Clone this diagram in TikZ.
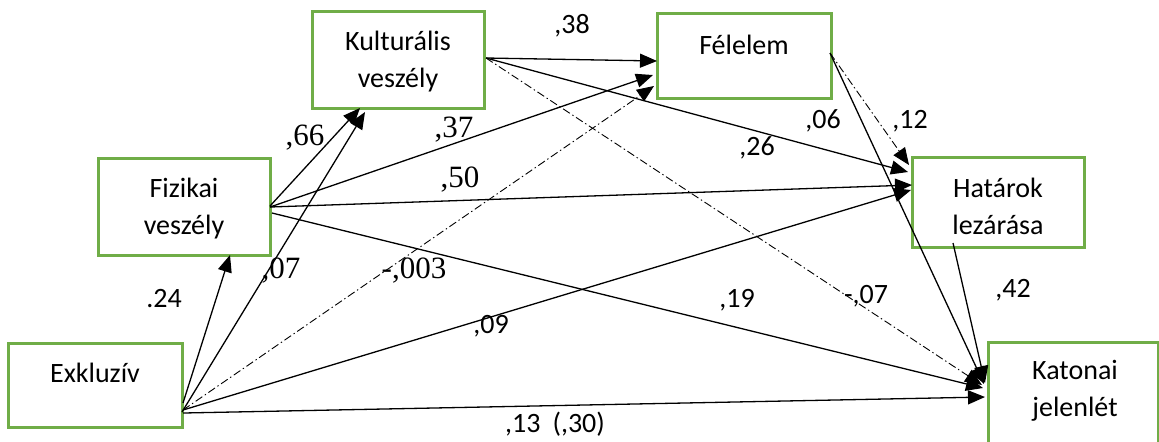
\documentclass[tikz,border=0pt]{standalone}
\usepackage{fontspec}
\setmainfont{Carlito}
\newfontfamily\tnr{Liberation Serif}
\usetikzlibrary{arrows.meta,calc}
\definecolor{boxgreen}{RGB}{112,173,71}
\begin{document}
\begin{tikzpicture}[x=0.5pt,y=-0.5pt,
  box/.style={draw=boxgreen, line width=1.5pt, rectangle, inner sep=0pt, outer sep=0pt},
  txt/.style={font=\fontsize{14}{18.5}\selectfont, align=center, inner sep=0pt},
  lab/.style={font=\fontsize{14}{16}\selectfont, inner sep=0pt, anchor=base},
  tlab/.style={font=\tnr\fontsize{15.5}{17}\selectfont, inner sep=0pt, anchor=base},
  arr/.style={line width=0.65pt, -{Triangle[length=8.5pt,width=7pt]}},
  dd/.style={arr, line width=0.45pt, dash pattern=on 4pt off 1.5pt on 0.7pt off 1.5pt}]
\useasboundingbox (0,0) rectangle (1159,441);
% boxes
\node[box, minimum width=86pt, minimum height=48.5pt] (kul) at (398,59.5) {};
\node[box, minimum width=87pt, minimum height=42.5pt] (fel) at (744,55.5) {};
\node[box, minimum width=86pt, minimum height=48.5pt] (fiz) at (184,206.5) {};
\node[box, minimum width=86pt, minimum height=45pt] (hat) at (998,202) {};
\node[box, minimum width=87pt, minimum height=42pt] (exk) at (95,385) {};
\node[box, minimum width=85pt, minimum height=69pt] (kat) at (1073,411) {};
% box texts
\node[txt] (kult) at (398,62) {Kulturális\\veszély};
\node[txt] (felt) at (744,45) {Félelem};
\node[txt] (fizt) at (184,209) {Fizikai\\veszély};
\node[txt] (hatt) at (998,206) {Határok\\lezárása};
\node[txt] (exkt) at (95,373) {Exkluzív};
\node[txt] (katt) at (1075,391) {Katonai\\jelenlét};
% connectors
\draw[arr] ($(fiz.north east)+(0,48)$) -- ($(kul.south west)+(48,0)$);
\draw[arr] ($(exk.north east)+(0,69)$) -- ($(kul.south west)+(53,4)$);
\draw[arr] ($(fiz.north east)+(0,49)$) -- ($(fel.north west)+(-4,62)$);
\draw[dd]  ($(exk.north east)+(1,67)$) -- ($(fel.north west)+(-3,73)$);
\draw[arr] ($(kul.north east)+(2,47)$) -- ($(fel.north west)+(0,48)$);
\draw[arr] ($(kul.north east)+(2,47)$) -- ($(hat.north west)+(-4,15)$);
\draw[dd]  ($(kul.north east)+(2,47)$) -- ($(kat.north west)+(-6,43)$);
\draw[arr] ($(fiz.north east)+(0,49)$) -- ($(hat.north west)+(0,28)$);
\draw[arr] ($(exk.north east)+(1,67)$) -- ($(hat.north west)+(-1,33)$);
\draw[arr] ($(fiz.north east)+(2,55)$) -- ($(kat.north west)+(-5,46)$);
\draw[arr] ($(fel.north east)+(-1,40)$) -- ($(kat.north west)+(-4,42)$);
\draw[dd]  ($(fel.north east)+(-1,40)$) -- ($(hat.north west)+(-3,8)$);
\draw[arr] ($(hat.south west)+(41,-4)$) -- ($(kat.north west)+(-3,41)$);
\draw[arr] ($(exk.north east)+(1,70)$) -- ($(kat.north west)+(-3,55)$);
\draw[arr] ($(exk.north east)+(1,60)$) -- ($(fiz.south west)+(132,0)$);
% labels
\node[lab]  (l38) at (572,33) {,38};
\node[tlab] (l66) at (305,145) {,66};
\node[tlab] (l37) at (454,137) {,37};
\node[tlab] (l50) at (460,187) {,50};
\node[tlab] (l07) at (281,278) {,07};
\node[tlab] (l003) at (414,278) {-,003};
\node[lab]  (l06) at (823,128) {,06};
\node[lab]  (l12) at (910,128) {,12};
\node[lab]  (l26) at (757,155) {,26};
\node[lab]  (l24) at (164,307) {.24};
\node[lab]  (l09) at (491,333) {,09};
\node[lab]  (l19) at (737,307) {,19};
\node[lab]  (l07n) at (866,303) {-,07};
\node[lab]  (l42) at (1013,297) {,42};
\node[lab]  (l13) at (555,432) {,13\hspace{6pt}(,30)};
\end{tikzpicture}
\end{document}
